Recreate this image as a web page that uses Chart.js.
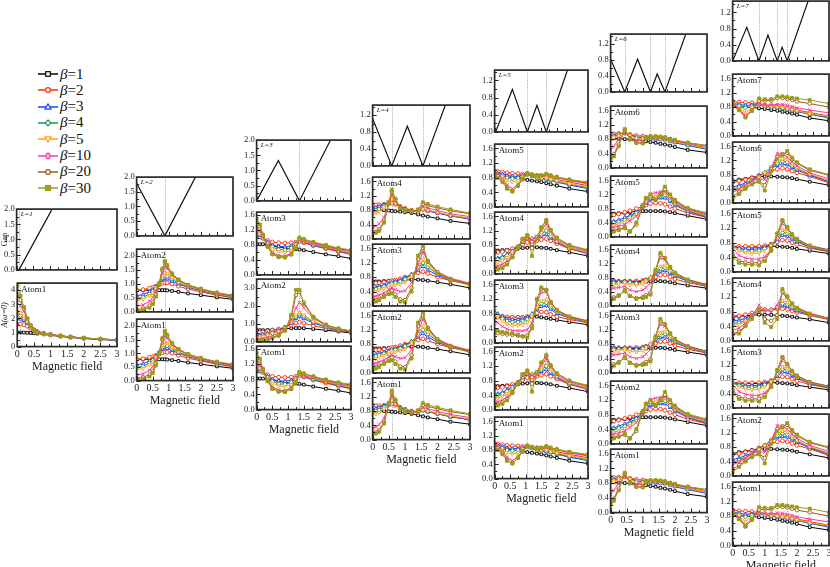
<!DOCTYPE html>
<html><head><meta charset="utf-8">
<script src="https://cdn.jsdelivr.net/npm/chart.js@4"></script>
<style>
html,body{margin:0;padding:0;background:#fff;width:830px;height:567px;overflow:hidden;position:relative;font-family:"Liberation Serif",serif;}
.pn{position:absolute}
.lg{position:absolute;height:16px;display:flex;align-items:center;font-size:15px;color:#111;font-family:"Liberation Serif",serif}
.lg svg{margin-right:1px}
</style></head><body>
<script>
// ---------------- DATA ----------------
const BETAS = ['1','2','3','4','5','10','20','30'];
const COLORS = ['#000000','#ff2a00','#1f3fff','#1a9950','#ff9f1a','#ff3aa0','#a0581a','#9c9c18'];

// Gap curves
const GAP1_X=[0,0.07,1.06],            GAP1_Y=[0,0,2.0];
const GAP2_X=[0,0.88,1.83],            GAP2_Y=[1.79,0,2.0];
const GAP3_X=[0,0.69,1.36,2.35],       GAP3_Y=[0,1.33,0,2.0];
const GAP4_X=[0,0.59,1.07,1.55,2.24],  GAP4_Y=[1.12,0,0.94,0,1.44];
const GAP5_X=[0.03,0.57,1.05,1.36,1.66,2.33], GAP5_Y=[0,0.99,0,0.62,0,1.42];
const GAP6_X=[0,0.44,0.84,1.24,1.45,1.69,2.34], GAP6_Y=[0.82,0,0.82,0,0.45,0,1.45];
const GAP7_X=[0,0.44,0.82,1.10,1.39,1.54,1.70,2.35], GAP7_Y=[0,0.83,0,0.64,0,0.34,0,1.48];
// gap-closing fields (dotted lines)
const ZERO1=[0.07], ZERO2=[0.88], ZERO3=[1.36], ZERO4=[0.59,1.55], ZERO5=[1.05,1.66], ZERO6=[0.44,1.24,1.69], ZERO7=[0.82,1.39,1.70];

// A(w=0) curves, rows = beta 1,2,3,4,5,10,20,30
const X_L1=[0,0.1,0.2,0.3,0.4,0.5,0.6,0.8,1.0,1.3,1.6,2.0,2.5,3.0];
const L1_A1=[
[1.0,1.0,1.0,0.98,0.97,0.95,0.92,0.87,0.8,0.72,0.65,0.57,0.5,0.44],
[1.6,1.6,1.55,1.45,1.3,1.15,1.05,0.95,0.85,0.75,0.68,0.6,0.53,0.47],
[2.0,1.95,1.85,1.65,1.4,1.2,1.08,0.95,0.86,0.76,0.68,0.6,0.53,0.47],
[2.3,2.2,2.0,1.75,1.45,1.2,1.08,0.95,0.86,0.76,0.68,0.6,0.53,0.47],
[2.5,2.4,2.15,1.8,1.45,1.2,1.07,0.94,0.86,0.76,0.68,0.6,0.53,0.47],
[3.1,2.9,2.5,1.95,1.5,1.2,1.05,0.93,0.86,0.77,0.69,0.61,0.54,0.48],
[3.7,3.3,2.7,2.0,1.5,1.18,1.02,0.9,0.84,0.76,0.69,0.61,0.54,0.48],
[4.3,3.6,2.8,2.0,1.5,1.15,0.98,0.88,0.82,0.75,0.68,0.61,0.54,0.48]];

const X_L2=[0,0.2,0.4,0.5,0.6,0.7,0.8,0.88,0.95,1.1,1.3,1.6,2.0,2.5,3.0];
const L2_A1=[
[0.78,0.78,0.78,0.78,0.78,0.78,0.78,0.78,0.77,0.75,0.72,0.66,0.6,0.52,0.45],
[0.78,0.8,0.85,0.88,0.92,0.97,1.02,1.05,1.04,1.0,0.92,0.82,0.72,0.6,0.5],
[0.58,0.62,0.72,0.8,0.9,1.02,1.15,1.2,1.18,1.1,1.0,0.88,0.76,0.63,0.52],
[0.48,0.52,0.64,0.74,0.87,1.03,1.22,1.3,1.27,1.17,1.04,0.9,0.78,0.64,0.53],
[0.4,0.45,0.58,0.69,0.84,1.03,1.28,1.4,1.36,1.22,1.07,0.92,0.79,0.65,0.54],
[0.2,0.25,0.38,0.52,0.74,1.02,1.4,1.62,1.55,1.32,1.13,0.95,0.81,0.67,0.56],
[0.08,0.12,0.22,0.35,0.62,1.0,1.5,1.78,1.65,1.36,1.15,0.96,0.82,0.68,0.57],
[0.04,0.07,0.15,0.28,0.55,1.0,1.55,1.82,1.68,1.38,1.16,0.97,0.83,0.69,0.6]];

const X_L3=[0,0.1,0.2,0.35,0.5,0.7,0.9,1.1,1.25,1.36,1.5,1.8,2.2,2.6,3.0];
const L3_A1=[
[0.82,0.82,0.82,0.8,0.78,0.75,0.72,0.7,0.69,0.68,0.66,0.61,0.55,0.5,0.44],
[1.05,1.02,0.98,0.92,0.88,0.86,0.85,0.86,0.88,0.9,0.86,0.78,0.7,0.62,0.55],
[1.1,1.05,0.98,0.88,0.8,0.76,0.75,0.78,0.84,0.9,0.87,0.8,0.72,0.64,0.57],
[1.15,1.08,0.98,0.85,0.75,0.68,0.67,0.72,0.82,0.9,0.88,0.81,0.73,0.65,0.58],
[1.2,1.1,0.98,0.82,0.7,0.62,0.6,0.66,0.8,0.9,0.89,0.82,0.74,0.66,0.59],
[1.3,1.18,1.0,0.78,0.6,0.52,0.5,0.58,0.75,0.92,0.9,0.84,0.76,0.68,0.62],
[1.42,1.3,1.05,0.76,0.56,0.48,0.47,0.55,0.72,0.97,0.94,0.87,0.78,0.7,0.65],
[1.5,1.35,1.08,0.75,0.55,0.48,0.47,0.55,0.72,1.0,0.96,0.88,0.8,0.72,0.67]];
const L3_A2=[
[0.65,0.65,0.65,0.66,0.68,0.7,0.73,0.76,0.77,0.77,0.76,0.72,0.65,0.58,0.5],
[0.5,0.52,0.55,0.6,0.65,0.72,0.82,0.95,1.05,1.1,1.05,0.9,0.75,0.63,0.55],
[0.35,0.37,0.42,0.48,0.55,0.65,0.8,1.05,1.3,1.4,1.3,1.05,0.82,0.67,0.57],
[0.28,0.3,0.35,0.42,0.5,0.6,0.78,1.1,1.4,1.55,1.42,1.1,0.85,0.68,0.58],
[0.22,0.24,0.3,0.37,0.45,0.56,0.76,1.12,1.5,1.65,1.5,1.15,0.87,0.7,0.59],
[0.12,0.14,0.18,0.25,0.34,0.47,0.7,1.2,1.9,2.2,1.9,1.3,0.93,0.72,0.6],
[0.06,0.07,0.1,0.15,0.24,0.38,0.65,1.4,2.6,2.8,2.2,1.4,0.96,0.74,0.61],
[0.03,0.04,0.07,0.12,0.2,0.34,0.62,1.5,2.9,2.9,2.1,1.38,0.95,0.73,0.6]];

const X_L4=[0,0.1,0.2,0.35,0.5,0.59,0.7,0.85,1.0,1.2,1.4,1.55,1.7,2.0,2.4,3.0];
const L4_A1=[
[0.8,0.8,0.8,0.8,0.79,0.78,0.77,0.76,0.74,0.72,0.68,0.65,0.62,0.57,0.5,0.43],
[0.95,0.95,0.95,0.96,0.98,1.0,0.96,0.9,0.85,0.8,0.78,0.82,0.78,0.72,0.64,0.55],
[0.85,0.87,0.9,0.95,1.02,1.06,1.0,0.9,0.83,0.78,0.77,0.82,0.78,0.72,0.64,0.56],
[0.78,0.8,0.83,0.9,1.03,1.08,1.0,0.88,0.81,0.77,0.76,0.82,0.79,0.73,0.65,0.57],
[0.7,0.72,0.76,0.86,1.04,1.1,1.0,0.87,0.8,0.76,0.76,0.83,0.8,0.74,0.66,0.58],
[0.32,0.35,0.42,0.6,0.98,1.22,1.05,0.86,0.78,0.76,0.78,0.9,0.86,0.79,0.7,0.62],
[0.18,0.2,0.26,0.48,1.0,1.32,1.1,0.86,0.77,0.76,0.8,0.97,0.93,0.86,0.78,0.7],
[0.15,0.17,0.22,0.45,1.0,1.37,1.12,0.86,0.77,0.76,0.82,1.02,0.97,0.9,0.82,0.72]];
const L4_A2=[
[0.68,0.68,0.68,0.69,0.7,0.7,0.71,0.72,0.72,0.73,0.73,0.72,0.7,0.66,0.6,0.5],
[0.62,0.63,0.64,0.66,0.68,0.7,0.72,0.76,0.8,0.86,0.92,0.95,0.9,0.8,0.7,0.6],
[0.5,0.52,0.55,0.58,0.62,0.65,0.68,0.72,0.78,0.88,1.0,1.1,1.0,0.85,0.72,0.6],
[0.45,0.47,0.5,0.54,0.58,0.62,0.64,0.68,0.74,0.86,1.05,1.2,1.08,0.88,0.74,0.61],
[0.38,0.4,0.44,0.48,0.53,0.58,0.58,0.6,0.66,0.82,1.08,1.3,1.15,0.9,0.75,0.62],
[0.25,0.27,0.3,0.36,0.45,0.5,0.45,0.4,0.42,0.65,1.15,1.5,1.25,0.95,0.77,0.63],
[0.14,0.16,0.2,0.28,0.38,0.42,0.32,0.18,0.16,0.5,1.3,1.62,1.25,0.93,0.74,0.6],
[0.1,0.12,0.16,0.25,0.33,0.35,0.25,0.12,0.1,0.4,1.4,1.68,1.22,0.9,0.72,0.57]];

const X_L5=[0,0.1,0.25,0.4,0.57,0.75,0.9,1.05,1.2,1.36,1.5,1.66,1.8,2.0,2.4,3.0];
const L5_A1=[
[0.85,0.85,0.84,0.82,0.8,0.78,0.76,0.74,0.72,0.7,0.68,0.65,0.62,0.58,0.5,0.42],
[0.98,0.97,0.95,0.93,0.92,0.91,0.9,0.9,0.88,0.86,0.85,0.84,0.8,0.75,0.68,0.58],
[0.93,0.92,0.9,0.86,0.84,0.84,0.86,0.88,0.84,0.8,0.78,0.76,0.73,0.68,0.6,0.5],
[0.9,0.88,0.85,0.8,0.78,0.79,0.83,0.88,0.85,0.8,0.78,0.77,0.74,0.7,0.62,0.53],
[0.9,0.87,0.82,0.73,0.68,0.72,0.8,0.89,0.86,0.82,0.8,0.8,0.76,0.72,0.64,0.55],
[0.95,0.9,0.78,0.6,0.5,0.62,0.78,0.9,0.88,0.86,0.86,0.88,0.84,0.8,0.72,0.63],
[0.88,0.84,0.72,0.52,0.43,0.58,0.76,0.92,0.88,0.86,0.86,0.9,0.86,0.82,0.74,0.65],
[0.85,0.8,0.68,0.5,0.42,0.58,0.76,0.92,0.88,0.86,0.86,0.9,0.86,0.82,0.75,0.68]];
const L5_A2=[
[0.65,0.65,0.66,0.67,0.68,0.7,0.72,0.73,0.74,0.74,0.73,0.72,0.7,0.66,0.6,0.5],
[0.58,0.6,0.62,0.65,0.7,0.76,0.82,0.88,0.9,0.92,0.95,0.98,0.92,0.84,0.7,0.56],
[0.42,0.44,0.48,0.55,0.64,0.76,0.88,0.98,0.98,1.0,1.05,1.1,1.0,0.88,0.72,0.57],
[0.38,0.4,0.44,0.51,0.62,0.76,0.9,1.0,0.98,1.02,1.1,1.2,1.05,0.9,0.73,0.58],
[0.3,0.32,0.37,0.45,0.58,0.75,0.92,1.02,0.98,1.03,1.15,1.3,1.1,0.92,0.74,0.59],
[0.2,0.22,0.27,0.36,0.52,0.74,0.95,1.05,0.95,1.05,1.22,1.4,1.18,0.96,0.77,0.62],
[0.14,0.16,0.2,0.3,0.48,0.72,0.97,1.07,0.72,1.02,1.28,1.48,1.22,1.0,0.8,0.65],
[0.1,0.12,0.16,0.26,0.46,0.72,0.98,1.08,0.5,0.98,1.3,1.5,1.22,1.0,0.8,0.67]];
const L5_A3=[
[0.7,0.7,0.7,0.7,0.7,0.7,0.7,0.71,0.72,0.72,0.7,0.68,0.66,0.63,0.57,0.5],
[0.78,0.76,0.73,0.71,0.7,0.7,0.7,0.72,0.76,0.82,0.85,0.84,0.78,0.72,0.64,0.55],
[0.85,0.8,0.72,0.66,0.64,0.64,0.66,0.7,0.8,0.92,1.0,1.02,0.92,0.8,0.68,0.57],
[0.82,0.76,0.66,0.6,0.57,0.57,0.6,0.65,0.78,0.95,1.08,1.1,0.98,0.84,0.7,0.58],
[0.75,0.7,0.6,0.52,0.48,0.48,0.5,0.56,0.72,0.98,1.15,1.18,1.02,0.86,0.71,0.59],
[0.6,0.55,0.45,0.38,0.34,0.33,0.33,0.36,0.55,1.1,1.38,1.4,1.12,0.9,0.73,0.6],
[0.28,0.27,0.25,0.23,0.22,0.2,0.18,0.2,0.45,1.2,1.48,1.45,1.12,0.9,0.72,0.6],
[0.35,0.33,0.3,0.28,0.26,0.22,0.18,0.15,0.4,1.2,1.52,1.45,1.1,0.88,0.7,0.58]];

const X_L6=[0,0.1,0.25,0.44,0.6,0.8,1.0,1.1,1.24,1.4,1.55,1.69,1.85,2.0,2.4,3.0];
const L6_A1=[
[0.82,0.82,0.81,0.8,0.79,0.78,0.76,0.74,0.72,0.7,0.67,0.65,0.62,0.58,0.5,0.43],
[0.95,0.95,0.96,0.97,0.93,0.9,0.88,0.86,0.85,0.84,0.83,0.82,0.78,0.74,0.66,0.56],
[0.88,0.9,0.93,0.98,0.92,0.86,0.84,0.82,0.82,0.8,0.79,0.78,0.74,0.7,0.62,0.52],
[0.85,0.87,0.92,0.99,0.92,0.84,0.82,0.82,0.83,0.82,0.8,0.79,0.75,0.72,0.64,0.54],
[0.8,0.83,0.9,1.0,0.9,0.82,0.8,0.82,0.84,0.83,0.82,0.8,0.76,0.73,0.65,0.55],
[0.5,0.6,0.8,0.98,0.85,0.76,0.76,0.82,0.86,0.85,0.84,0.82,0.79,0.76,0.68,0.6],
[0.3,0.38,0.65,1.05,0.82,0.7,0.7,0.84,0.87,0.87,0.86,0.84,0.8,0.77,0.7,0.62],
[0.25,0.32,0.6,1.08,0.8,0.7,0.68,0.85,0.88,0.88,0.87,0.85,0.81,0.78,0.7,0.62]];
const L6_A2=[
[0.65,0.66,0.67,0.68,0.7,0.72,0.73,0.73,0.73,0.73,0.73,0.72,0.7,0.67,0.6,0.5],
[0.6,0.62,0.65,0.7,0.74,0.8,0.86,0.9,0.94,0.96,0.95,0.92,0.86,0.8,0.68,0.55],
[0.42,0.44,0.48,0.55,0.6,0.7,0.85,0.95,1.05,1.08,1.1,1.1,1.0,0.9,0.72,0.56],
[0.38,0.4,0.43,0.48,0.55,0.68,0.86,1.0,1.1,1.12,1.15,1.18,1.05,0.93,0.74,0.58],
[0.3,0.32,0.36,0.42,0.5,0.64,0.86,1.02,1.15,1.15,1.2,1.25,1.1,0.96,0.76,0.6],
[0.25,0.27,0.3,0.35,0.45,0.58,0.88,1.08,1.22,1.25,1.28,1.28,1.12,0.98,0.78,0.62],
[0.15,0.17,0.2,0.25,0.15,0.35,0.88,1.1,1.15,1.05,1.2,1.35,1.15,1.02,0.8,0.65],
[0.12,0.15,0.2,0.28,0.15,0.4,0.9,1.1,1.2,1.05,1.2,1.42,1.2,1.05,0.82,0.68]];
const L6_A3=[
[0.68,0.68,0.68,0.68,0.68,0.68,0.68,0.68,0.69,0.7,0.7,0.69,0.67,0.64,0.58,0.5],
[0.7,0.7,0.7,0.7,0.7,0.71,0.72,0.74,0.77,0.82,0.87,0.88,0.82,0.76,0.66,0.55],
[0.7,0.7,0.7,0.7,0.69,0.68,0.7,0.73,0.8,0.9,0.98,1.0,0.92,0.84,0.7,0.57],
[0.65,0.65,0.66,0.68,0.66,0.64,0.67,0.72,0.8,0.95,1.06,1.08,0.97,0.87,0.72,0.58],
[0.6,0.6,0.62,0.65,0.6,0.58,0.62,0.68,0.8,1.0,1.12,1.15,1.0,0.9,0.73,0.59],
[0.5,0.5,0.52,0.55,0.45,0.4,0.45,0.52,0.65,1.05,1.35,1.3,1.08,0.94,0.75,0.6],
[0.2,0.24,0.3,0.42,0.28,0.22,0.25,0.3,0.38,1.0,1.45,1.35,1.1,0.94,0.74,0.6],
[0.15,0.2,0.28,0.45,0.28,0.2,0.22,0.25,0.32,1.0,1.5,1.35,1.1,0.92,0.72,0.58]];

const X_L7=[0,0.2,0.4,0.6,0.82,1.0,1.2,1.39,1.55,1.7,1.85,2.0,2.4,3.0];
const L7_A1=[
[0.82,0.81,0.8,0.79,0.77,0.75,0.72,0.7,0.67,0.65,0.62,0.59,0.5,0.42],
[0.95,0.94,0.93,0.92,0.9,0.86,0.84,0.82,0.8,0.78,0.75,0.72,0.65,0.55],
[0.9,0.88,0.85,0.86,0.88,0.82,0.79,0.78,0.76,0.74,0.71,0.68,0.6,0.5],
[0.88,0.84,0.78,0.82,0.88,0.83,0.8,0.79,0.77,0.75,0.72,0.69,0.61,0.52],
[0.88,0.8,0.66,0.78,0.9,0.84,0.82,0.8,0.78,0.76,0.73,0.7,0.62,0.54],
[0.9,0.76,0.56,0.72,0.9,0.86,0.86,0.88,0.88,0.85,0.82,0.78,0.72,0.64],
[0.85,0.72,0.52,0.7,0.98,0.98,0.98,1.05,1.05,1.03,1.0,0.96,0.9,0.8],
[0.85,0.72,0.52,0.7,1.04,1.02,1.02,1.1,1.1,1.08,1.06,1.04,1.0,0.9]];
const L7_A2=[
[0.62,0.66,0.68,0.72,0.75,0.75,0.75,0.74,0.73,0.72,0.7,0.67,0.6,0.5],
[0.58,0.62,0.66,0.7,0.78,0.84,0.9,0.95,0.98,0.95,0.9,0.85,0.75,0.57],
[0.45,0.5,0.56,0.64,0.76,0.86,0.98,1.06,1.1,1.08,1.0,0.93,0.78,0.6],
[0.38,0.44,0.52,0.62,0.74,0.86,1.0,1.12,1.18,1.15,1.05,0.97,0.8,0.62],
[0.32,0.38,0.47,0.6,0.72,0.85,1.02,1.18,1.25,1.22,1.1,1.0,0.82,0.63],
[0.3,0.4,0.5,0.62,0.68,0.66,0.98,1.4,1.38,1.3,1.16,1.05,0.85,0.68],
[0.18,0.3,0.42,0.55,0.62,0.5,0.95,1.3,1.38,1.42,1.24,1.12,0.92,0.78],
[0.1,0.25,0.4,0.52,0.6,0.35,0.9,1.25,1.35,1.47,1.28,1.15,0.95,0.8]];
const L7_A3=[
[0.7,0.69,0.69,0.68,0.68,0.69,0.7,0.7,0.69,0.68,0.66,0.63,0.58,0.5],
[0.7,0.7,0.7,0.7,0.7,0.72,0.76,0.82,0.87,0.86,0.8,0.75,0.65,0.55],
[0.7,0.65,0.62,0.62,0.63,0.68,0.75,0.88,1.0,0.98,0.9,0.82,0.68,0.56],
[0.7,0.62,0.58,0.57,0.58,0.64,0.74,0.92,1.08,1.05,0.95,0.85,0.7,0.57],
[0.7,0.58,0.52,0.5,0.52,0.58,0.72,0.95,1.15,1.1,0.98,0.88,0.71,0.58],
[0.65,0.45,0.38,0.35,0.35,0.42,0.62,1.0,1.32,1.2,1.02,0.9,0.72,0.6],
[0.5,0.3,0.26,0.25,0.25,0.35,0.6,1.05,1.4,1.22,1.03,0.9,0.72,0.6],
[0.4,0.25,0.2,0.2,0.18,0.3,0.58,1.05,1.42,1.22,1.02,0.88,0.7,0.58]];
const L7_A4=[
[0.65,0.67,0.69,0.7,0.72,0.72,0.71,0.7,0.69,0.68,0.66,0.64,0.59,0.5],
[0.68,0.69,0.72,0.76,0.82,0.84,0.85,0.87,0.88,0.86,0.82,0.78,0.7,0.58],
[0.55,0.57,0.62,0.7,0.84,0.86,0.86,0.9,0.96,0.94,0.88,0.82,0.72,0.6],
[0.48,0.5,0.56,0.68,0.86,0.86,0.86,0.92,1.02,1.0,0.92,0.85,0.73,0.6],
[0.42,0.45,0.52,0.66,0.88,0.86,0.84,0.94,1.1,1.05,0.95,0.87,0.74,0.61],
[0.28,0.35,0.48,0.68,0.98,0.85,0.8,0.98,1.3,1.18,1.02,0.92,0.76,0.62],
[0.2,0.25,0.42,0.62,0.85,0.6,0.55,0.7,1.35,1.2,1.02,0.9,0.74,0.6],
[0.18,0.2,0.4,0.6,0.88,0.5,0.38,0.6,1.42,1.22,1.02,0.9,0.73,0.6]];

// ---------------- STYLE / LAYOUT ----------------
const FONT='"Liberation Serif", "Times New Roman", serif';
Chart.defaults.font.family=FONT;
const PSTYLE=['rect','circle','triangle','rectRot','triangle','crossRot','circle','rect'];
const PROT=[0,0,0,0,180,0,0,0];
const PRAD=[1.9,1.9,2.1,2.1,2.1,2.4,1.8,2.1];

const COLS=[
 {L:1,l:17,r:117,gap:[209,270],atoms:[[283,346]],gx:GAP1_X,gy:GAP1_Y,z:ZERO1,x:X_L1,data:[L1_A1],gmax:2.0,gst:0.5},
 {L:2,l:137,r:233,gap:[177,236],atoms:[[249,312],[319,380]],gx:GAP2_X,gy:GAP2_Y,z:ZERO2,x:X_L2,data:[L2_A1],gmax:2.0,gst:0.5},
 {L:3,l:257,r:351,gap:[140,201],atoms:[[212,275],[279,342],[346,409]],gx:GAP3_X,gy:GAP3_Y,z:ZERO3,x:X_L3,data:[L3_A1,L3_A2],gmax:2.0,gst:0.5},
 {L:4,l:373,r:470,gap:[105,166],atoms:[[177,239],[244,306],[311,373],[378,439]],gx:GAP4_X,gy:GAP4_Y,z:ZERO4,x:X_L4,data:[L4_A1,L4_A2],gmax:1.44,gst:0.4},
 {L:5,l:495,r:588,gap:[70,132],atoms:[[144,207],[212,274],[280,343],[347,410],[417,478]],gx:GAP5_X,gy:GAP5_Y,z:ZERO5,x:X_L5,data:[L5_A1,L5_A2,L5_A3],gmax:1.44,gst:0.4},
 {L:6,l:611,r:707,gap:[34,92],atoms:[[106,168],[176,237],[245,306],[311,373],[381,444],[449,512]],gx:GAP6_X,gy:GAP6_Y,z:ZERO6,x:X_L6,data:[L6_A1,L6_A2,L6_A3],gmax:1.45,gst:0.4},
 {L:7,l:733,r:829,gap:[1,61],atoms:[[74,136],[142,203],[209,272],[278,341],[346,408],[414,476],[482,545]],gx:GAP7_X,gy:GAP7_Y,z:ZERO7,x:X_L7,data:[L7_A1,L7_A2,L7_A3,L7_A4],gmax:1.48,gst:0.4}
];

const deco={
 id:'deco',
 beforeDatasetsDraw(ch){
  const o=ch.options.plugins.deco; const {ctx,chartArea:a,scales:{x}}=ch;
  ctx.save(); ctx.strokeStyle='#9a9a9a'; ctx.lineWidth=0.8; ctx.setLineDash([1.2,1.2]);
  for(const v of o.lines){const px=Math.round(x.getPixelForValue(v))+0.5;ctx.beginPath();ctx.moveTo(px,a.top);ctx.lineTo(px,a.bottom);ctx.stroke();}
  ctx.restore();
 },
 afterDraw(ch){
  const o=ch.options.plugins.deco; const {ctx,chartArea:a,scales:{x,y}}=ch;
  ctx.save(); ctx.strokeStyle='#222'; ctx.lineWidth=1; ctx.beginPath();
  for(let k=0;k<=12;k++){const v=k*0.25;const px=Math.round(x.getPixelForValue(v))+0.5;const len=(k%2===0)?4:2.5;ctx.moveTo(px,a.bottom);ctx.lineTo(px,a.bottom-len);}
  const tv=y.ticks.map(t=>t.value); const st=tv[1]-tv[0];
  for(let k=0;k*st/2<=y.max+1e-9;k++){const v=k*st/2;const py=Math.round(y.getPixelForValue(v))+0.5;const len=(k%2===0)?4:2.5;ctx.moveTo(a.left,py);ctx.lineTo(a.left+len,py);}
  ctx.stroke();
  ctx.lineWidth=1.7; ctx.strokeStyle='#2a2a2a';
  ctx.strokeRect(a.left,a.top,a.right-a.left,a.bottom-a.top);
  ctx.fillStyle='#111'; ctx.font=o.font; ctx.textBaseline='top'; ctx.textAlign='left';
  ctx.fillText(o.label,a.left+4,a.top+2);
  if(o.ytitle){
   ctx.save(); ctx.translate(a.left-12,(a.top+a.bottom)/2); ctx.rotate(-Math.PI/2);
   ctx.font=(o.ytitalic?'italic ':'')+'8px '+FONT; ctx.textAlign='center'; ctx.textBaseline='middle';
   ctx.fillText(o.ytitle,0,0); ctx.restore();
  }
  ctx.restore();
 }
};

function fmtX(v){ return Number.isInteger(v)? String(v) : v.toFixed(1); }

function buildConfig(p){
 return {
  type:'line',
  data:{datasets:p.datasets},
  options:{
   responsive:false,animation:false,events:[],
   layout:{padding:{top:6,right:5,left:p.ytitle?8:0,bottom:p.bottom?0:4}},
   plugins:{legend:{display:false},tooltip:{enabled:false},
     deco:{lines:p.lines,label:p.label,font:p.lfont,ytitle:p.ytitle,ytitalic:p.ytitalic}},
   scales:{
    x:{type:'linear',min:0,max:3,
       grid:{display:false,drawTicks:false},border:{display:false},
       ticks:{display:p.bottom,stepSize:0.5,includeBounds:false,padding:2,color:'#222',font:{size:10},maxRotation:0,autoSkip:false,callback:fmtX},
       title:{display:p.bottom,text:'Magnetic field',color:'#222',font:{size:12},padding:{top:-3,bottom:0}}},
    y:{type:'linear',min:0,max:p.ymax,
       grid:{display:false,drawTicks:false},border:{display:false},
       ticks:{stepSize:p.ystep,includeBounds:false,padding:2,color:'#222',font:{size:8.5},
              callback:v=>v.toFixed(p.dec)}}
   }
  },
  plugins:[deco]
 };
}

function makePanel(box,p){
 const div=document.createElement('div'); div.className='pn'; document.body.appendChild(div);
 let cv=document.createElement('canvas'); div.appendChild(cv);
 const fw=box.r-box.l, fh=box.b-box.t;
 const W0=fw+80,H0=fh+80;
 cv.width=W0;cv.height=H0;cv.style.width=W0+'px';cv.style.height=H0+'px';
 let ch=new Chart(cv,buildConfig(p));
 const a=ch.chartArea; const ml=a.left,mt=a.top,mr=W0-a.right,mb=H0-a.bottom;
 ch.destroy(); div.removeChild(cv);
 cv=document.createElement('canvas'); div.appendChild(cv);
 const W=Math.round(fw+ml+mr),H=Math.round(fh+mt+mb);
 cv.width=W;cv.height=H;cv.style.width=W+'px';cv.style.height=H+'px';
 div.style.left=(box.l-ml)+'px'; div.style.top=(box.t-mt)+'px';
 new Chart(cv,buildConfig(p));
}

function atomDatasets(X,rows){
 return rows.map((row,i)=>({
  label:'β='+BETAS[i],
  data:X.map((xv,j)=>({x:xv,y:row[j]})),
  borderColor:COLORS[i],backgroundColor:COLORS[i],borderWidth:1,
  pointStyle:PSTYLE[i],pointRotation:PROT[i],pointRadius:PRAD[i],pointBorderWidth:0.9,
  pointBackgroundColor:(i===7)?COLORS[i]:'#ffffff',pointBorderColor:COLORS[i],
  tension:0,fill:false,order:7-i
 }));
}

for(const c of COLS){
 makePanel({l:c.l,r:c.r,t:c.gap[0],b:c.gap[1]},{
  datasets:[{data:c.gx.map((xv,j)=>({x:xv,y:c.gy[j]})),borderColor:'#111',borderWidth:1.2,pointRadius:0,tension:0,fill:false}],
  lines:c.z,label:'L='+c.L,lfont:'italic 7px '+FONT,bottom:false,ymax:c.gmax,ystep:c.gst,dec:1,
  ytitle:c.L===1?'Gap':null,ytitalic:false
 });
 const n=c.atoms.length;
 c.atoms.forEach((ab,idx)=>{
  const atom=n-idx; // top is AtomL
  const k=Math.min(atom,c.L+1-atom);
  const rows=c.data[k-1];
  let ymax=1.72,ystep=0.4,dec=1;
  if(c.L===1){ymax=4.5;ystep=1;dec=0;}
  else if(c.L===2){ymax=2.25;ystep=0.5;}
  else if(c.L===3){ if(k===2){ymax=3.5;ystep=1.0;} else {ymax=1.68;} }
  makePanel({l:c.l,r:c.r,t:ab[0],b:ab[1]},{
   datasets:atomDatasets(c.x,rows),lines:c.z,label:'Atom'+atom,lfont:'9px '+FONT,
   bottom:idx===n-1,ymax,ystep,dec,ytitle:c.L===1?'A(ω=0)':null,ytitalic:true
  });
 });
}

// ---------------- LEGEND ----------------
function markerSVG(i){
 const c=COLORS[i],f=(i===7)?c:'#fff';
 let m='';
 const cx=10,cy=5;
 switch(i){
  case 0: m=`<rect x="${cx-2.3}" y="${cy-2.3}" width="4.6" height="4.6" fill="${f}" stroke="${c}" stroke-width="1.2"/>`;break;
  case 1: case 6: m=`<circle cx="${cx}" cy="${cy}" r="2.4" fill="${f}" stroke="${c}" stroke-width="1.2"/>`;break;
  case 2: m=`<polygon points="${cx},${cy-3} ${cx+3},${cy+2.2} ${cx-3},${cy+2.2}" fill="${f}" stroke="${c}" stroke-width="1.2"/>`;break;
  case 3: m=`<polygon points="${cx},${cy-3} ${cx+3},${cy} ${cx},${cy+3} ${cx-3},${cy}" fill="${f}" stroke="${c}" stroke-width="1.2"/>`;break;
  case 4: m=`<polygon points="${cx-3},${cy-2.2} ${cx+3},${cy-2.2} ${cx},${cy+3}" fill="${f}" stroke="${c}" stroke-width="1.2"/>`;break;
  case 5: m=`<ellipse cx="${cx}" cy="${cy}" rx="2" ry="3" fill="#fff" stroke="${c}" stroke-width="1.2"/><line x1="${cx}" y1="${cy-3}" x2="${cx}" y2="${cy+3}" stroke="${c}" stroke-width="1"/>`;break;
  case 7: m=`<rect x="${cx-2.6}" y="${cy-2.6}" width="5.2" height="5.2" fill="${c}" stroke="${c}" stroke-width="1"/>`;break;
 }
 return `<svg width="21" height="10" viewBox="0 0 21 10"><line x1="0" y1="5" x2="20" y2="5" stroke="${c}" stroke-width="1.5"/>${m}</svg>`;
}
BETAS.forEach((b,i)=>{
 const d=document.createElement('div'); d.className='lg';
 d.style.left='38px'; d.style.top=(66+16.3*i)+'px';
 d.innerHTML=markerSVG(i)+`<span><i>β</i>=${b}</span>`;
 document.body.appendChild(d);
});
</script>
</body></html>
